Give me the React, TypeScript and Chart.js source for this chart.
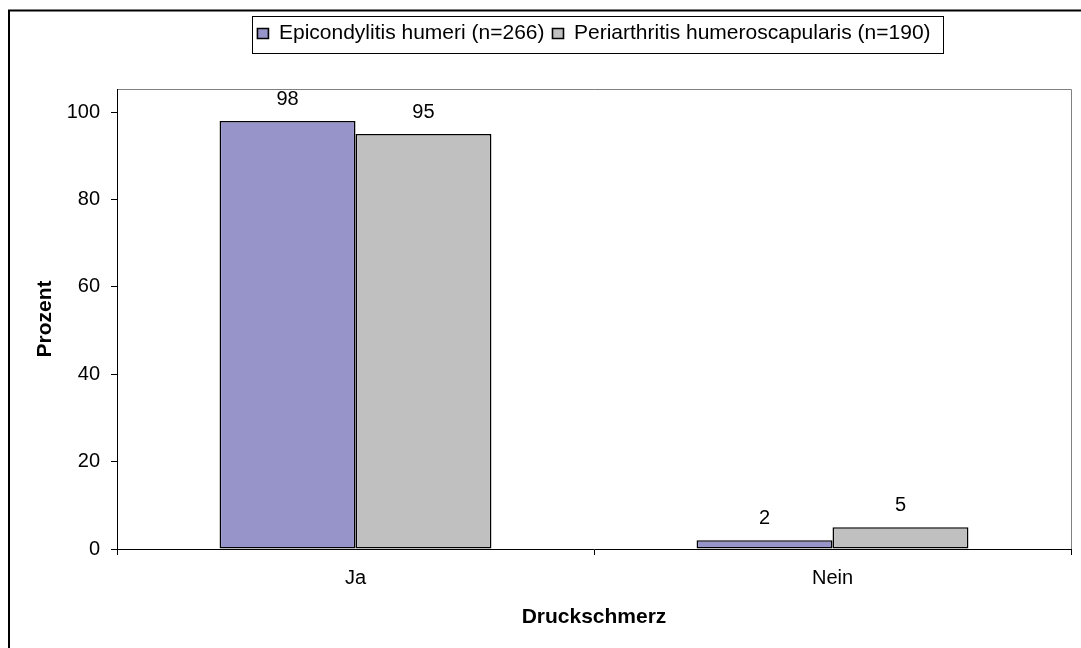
import React, { useEffect, useRef } from "react";
import { Chart, registerables } from "chart.js";

Chart.register(...registerables);

// ---- data ----
const categories = ["Ja", "Nein"];
const seriesLabels = ["Epicondylitis humeri (n=266)", "Periarthritis humeroscapularis (n=190)"];
const epicondylitisValues = [98, 2];
const periarthritisValues = [95, 5];
const yTickValues = [0, 20, 40, 60, 80, 100];
const yMax = 105.3;
const xAxisTitle = "Druckschmerz";
const yAxisTitle = "Prozent";

const FONT = "'Liberation Sans', Arial, Helvetica, sans-serif";
const BLUE = "#9794C9";
const GRAY = "#C0C0C0";

const framePlugin = {
  id: "frame",
  beforeDraw(chart: any) {
    const { ctx, chartArea } = chart;
    ctx.save();
    ctx.fillStyle = "#ffffff";
    ctx.fillRect(0, 0, chart.width, chart.height);
    // outer chart border (cropped at right/bottom)
    ctx.strokeStyle = "#000000";
    ctx.lineWidth = 2;
    ctx.strokeRect(9, 10.5, chart.width + 50, chart.height + 50);
    // plot area frame (top & right, gray)
    ctx.strokeStyle = "#808080";
    ctx.lineWidth = 1;
    ctx.beginPath();
    ctx.moveTo(chartArea.left, chartArea.top + 0.5);
    ctx.lineTo(chartArea.right + 0.5, chartArea.top + 0.5);
    ctx.lineTo(chartArea.right + 0.5, chartArea.bottom);
    ctx.stroke();
    ctx.restore();
  },
};

const legendBorderPlugin = {
  id: "legendBorder",
  afterDraw(chart: any) {
    const lg = chart.legend;
    if (!lg || !lg.legendHitBoxes || !lg.legendHitBoxes.length) return;
    const hb = lg.legendHitBoxes;
    const first = hb[0];
    const last = hb[hb.length - 1];
    const left = Math.round(first.left - 5) + 0.5;
    const right = Math.round(last.left + last.width + 12) + 0.5;
    const mid = first.top + first.height / 2;
    const top = Math.round(mid - 18) + 0.5;
    const ctx = chart.ctx;
    ctx.save();
    ctx.strokeStyle = "#000000";
    ctx.lineWidth = 1;
    ctx.strokeRect(left, top, right - left, 37);
    ctx.restore();
  },
};

const dataLabelPlugin = {
  id: "dataLabels",
  afterDatasetsDraw(chart: any) {
    const ctx = chart.ctx;
    ctx.save();
    ctx.font = `20px ${FONT}`;
    ctx.fillStyle = "#000000";
    ctx.textAlign = "center";
    ctx.textBaseline = "alphabetic";
    chart.data.datasets.forEach((ds: any, i: number) => {
      const meta = chart.getDatasetMeta(i);
      meta.data.forEach((el: any, j: number) => {
        ctx.fillText(String(ds.data[j]), el.x, el.y - 16);
      });
    });
    ctx.restore();
  },
};

export default function App() {
  const canvasRef = useRef<HTMLCanvasElement | null>(null);

  useEffect(() => {
    if (!canvasRef.current) return;
    const chart = new Chart(canvasRef.current, {
      type: "bar",
      data: {
        labels: categories,
        datasets: [
          {
            label: seriesLabels[0],
            data: epicondylitisValues,
            backgroundColor: BLUE,
            borderColor: "#000000",
            borderWidth: 1.6,
            borderSkipped: false,
          },
          {
            label: seriesLabels[1],
            data: periarthritisValues,
            backgroundColor: GRAY,
            borderColor: "#000000",
            borderWidth: 1.6,
            borderSkipped: false,
          },
        ],
      },
      options: {
        animation: false,
        responsive: true,
        maintainAspectRatio: false,
        events: [],
        datasets: {
          bar: { categoryPercentage: 0.57, barPercentage: 1 },
        },
        layout: { padding: { top: 15, right: 10, bottom: 0, left: 0 } },
        plugins: {
          tooltip: { enabled: false },
          legend: {
            display: true,
            position: "top",
            fullSize: false,
            labels: {
              boxWidth: 11,
              boxHeight: 10,
              padding: 8,
              color: "#000000",
              font: { family: FONT, size: 21 },
            },
          },
          subtitle: {
            display: true,
            text: "",
            weight: 500,
            position: "top",
            padding: 0,
            font: { size: 35, lineHeight: 1 },
          },
          title: { display: false },
        },
        scales: {
          x: {
            offset: true,
            afterFit: (s: any) => {
              s.height = 99;
            },
            grid: {
              offset: true,
              drawOnChartArea: false,
              drawTicks: true,
              tickLength: 6,
              color: "#000000",
            },
            border: { display: true, color: "#000000", width: 1 },
            ticks: {
              padding: 11.5,
              color: "#000000",
              font: { family: FONT, size: 20 },
            },
            title: {
              display: true,
              text: xAxisTitle,
              color: "#000000",
              font: { family: FONT, size: 21, weight: "bold" },
              padding: { top: 0, bottom: 18.4 },
            },
          },
          y: {
            min: 0,
            max: yMax,
            afterBuildTicks: (s: any) => {
              s.ticks = yTickValues.map((v) => ({ value: v }));
            },
            afterFit: (s: any) => {
              s.width = 117;
            },
            grid: {
              drawOnChartArea: false,
              drawTicks: true,
              tickLength: 6,
              color: "#000000",
            },
            border: { display: true, color: "#000000", width: 1 },
            ticks: {
              padding: 11,
              color: "#000000",
              font: { family: FONT, size: 20 },
            },
            title: {
              display: true,
              text: yAxisTitle,
              color: "#000000",
              font: { family: FONT, size: 21, weight: "bold" },
              padding: { top: 32.4, bottom: 0 },
            },
          },
        },
      } as any,
      plugins: [framePlugin, legendBorderPlugin, dataLabelPlugin],
    });
    return () => chart.destroy();
  }, []);

  return (
    <div
      style={{
        position: "fixed",
        left: 0,
        top: 0,
        width: "1081px",
        height: "648px",
        background: "#ffffff",
      }}
    >
      <canvas ref={canvasRef} style={{ display: "block" }} />
    </div>
  );
}
